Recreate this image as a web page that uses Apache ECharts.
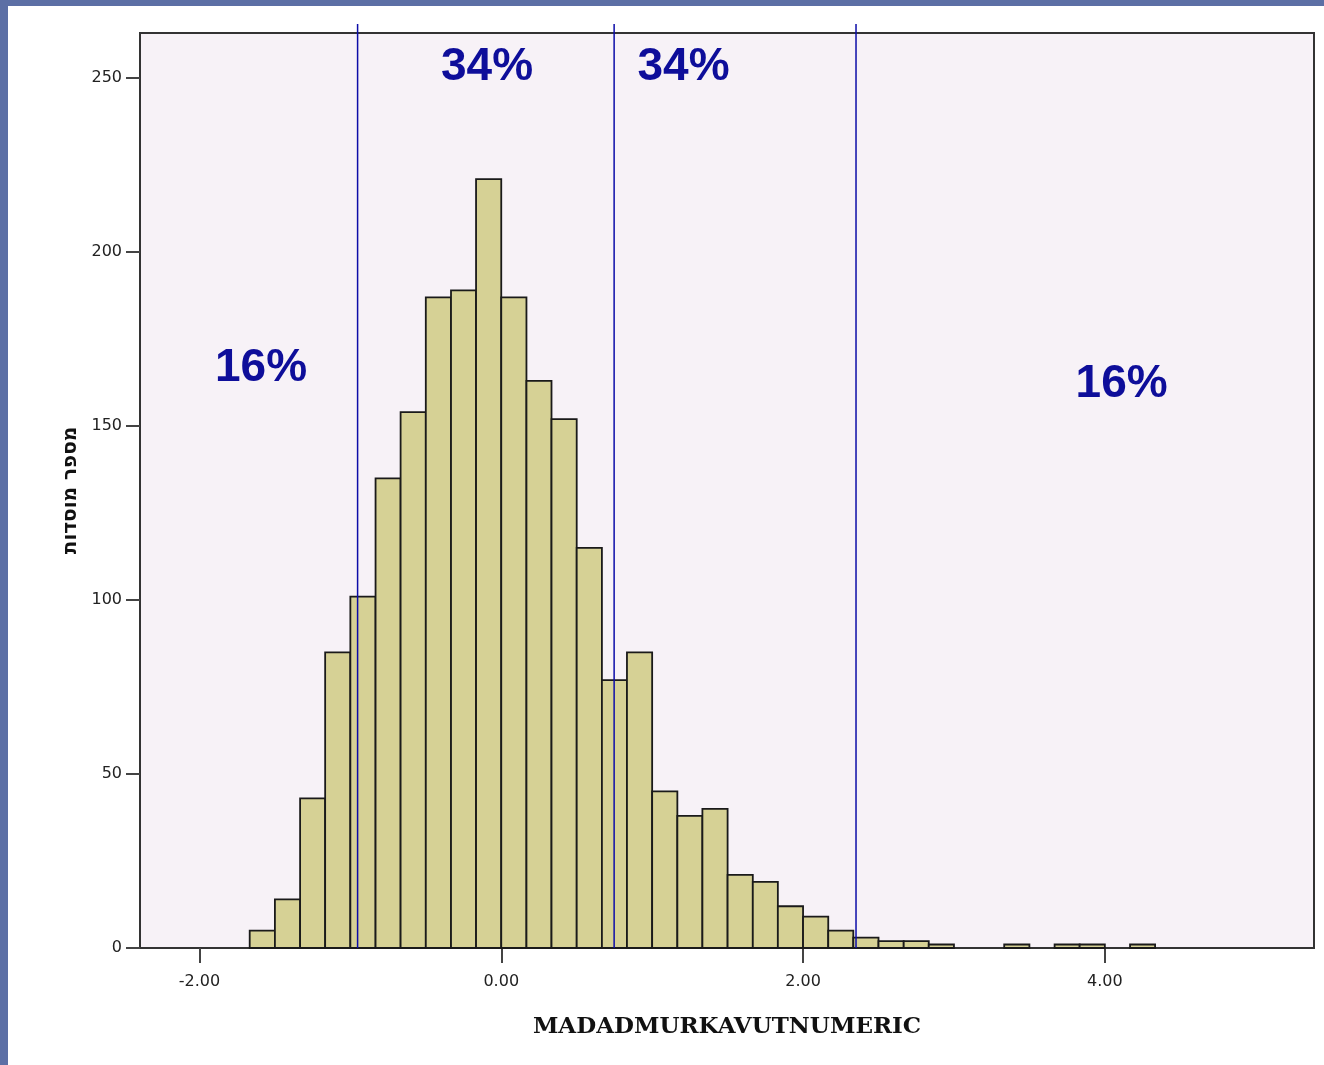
<!DOCTYPE html>
<html>
<head>
<meta charset="utf-8">
<script src="https://cdn.jsdelivr.net/npm/echarts@6/dist/echarts.min.js"></script>
<style>
html,body{margin:0;padding:0;background:#ffffff;overflow:hidden;}
#chart{position:absolute;left:0;top:0;width:1324px;height:1065px;}
.strip{position:absolute;background:#5c6fa5;z-index:5;}
</style>
</head>
<body>
<div id="chart"></div>
<div class="strip" style="left:0;top:0;width:8px;height:1065px;"></div>
<div class="strip" style="left:0;top:0;width:1324px;height:6px;"></div>
<script>
// Histogram bin edges (MADADMURKAVUTNUMERIC)
const binEdges = [-1.667, -1.5, -1.333, -1.167, -1.0, -0.833, -0.667, -0.5, -0.333, -0.167,
  0.0, 0.167, 0.333, 0.5, 0.667, 0.833, 1.0, 1.167, 1.333, 1.5, 1.667, 1.833,
  2.0, 2.167, 2.333, 2.5, 2.667, 2.833, 3.0, 3.167, 3.333, 3.5, 3.667, 3.833, 4.0, 4.167, 4.333];
// Frequency per bin
const counts = [5, 14, 43, 85, 101, 135, 154, 187, 189, 221,
  187, 163, 152, 115, 77, 85, 45, 38, 40, 21, 19, 12,
  9, 5, 3, 2, 2, 1, 0, 0, 1, 0, 1, 1, 0, 1];
// Vertical reference lines
const refLines = [-0.952, 0.748, 2.351];
const refLineTop = 265.6;
// Percentage annotations
const noteText = ['34%', '34%', '16%', '16%'];
const noteX = [-0.094, 1.208, -1.592, 4.111];
const noteY = [253.2, 253.2, 166.6, 162.0];
// Tick values
const xTicks = [-2, 0, 2, 4];
const yTicks = [0, 50, 100, 150, 200, 250];

const barData = counts.map((c, i) => [binEdges[i], binEdges[i + 1], c]);
const lineData = refLines.map(v => [v, 0]);
const noteData = noteText.map((t, i) => [noteX[i], noteY[i], t]);

const chart = echarts.init(document.getElementById('chart'));
chart.setOption({
  animation: false,
  backgroundColor: 'transparent',
  grid: {
    left: 140, right: 10, top: 33, bottom: 117,
    show: true, backgroundColor: '#f7f2f7', borderColor: '#333333', borderWidth: 2
  },
  xAxis: {
    type: 'value', min: -2.394, max: 5.386,
    name: 'MADADMURKAVUTNUMERIC', nameLocation: 'middle', nameGap: 68,
    nameTextStyle: { fontFamily: 'DejaVu Serif', fontWeight: 'bold', fontSize: 23, color: '#111' },
    axisLine: { show: true, onZero: false, lineStyle: { color: '#333333', width: 2 } },
    splitLine: { show: false },
    axisTick: { show: true, inside: false, length: 15, customValues: xTicks, lineStyle: { color: '#444444', width: 2 } },
    axisLabel: { customValues: xTicks, margin: 26, fontFamily: 'DejaVu Sans', fontSize: 16, color: '#222',
      formatter: v => v.toFixed(2) }
  },
  yAxis: {
    type: 'value', min: 0, max: 263,
    name: 'מספר מוסדות', nameLocation: 'middle', nameGap: 58,
    nameTextStyle: { fontFamily: 'DejaVu Sans', fontWeight: 'bold', fontSize: 20, color: '#111' },
    axisLine: { show: true, onZero: false, lineStyle: { color: '#333333', width: 2 } },
    splitLine: { show: false },
    axisTick: { show: true, inside: false, length: 14, customValues: yTicks, lineStyle: { color: '#444444', width: 2 } },
    axisLabel: { customValues: yTicks, margin: 18, fontFamily: 'DejaVu Sans', fontSize: 16, color: '#222' }
  },
  series: [
    {
      type: 'custom',
      data: barData,
      encode: { x: [0, 1], y: 2 },
      renderItem: function (params, api) {
        const x0 = api.value(0), x1 = api.value(1), c = api.value(2);
        if (!c) return null;
        const p0 = api.coord([x0, c]);
        const p1 = api.coord([x1, 0]);
        return {
          type: 'rect',
          shape: { x: p0[0], y: p0[1], width: p1[0] - p0[0], height: p1[1] - p0[1] },
          style: { fill: '#d6d195', stroke: '#1a1a1a', lineWidth: 1.8 }
        };
      },
      z: 2
    },
    {
      type: 'custom',
      data: lineData,
      clip: false,
      renderItem: function (params, api) {
        const v = api.value(0);
        const a = api.coord([v, 0]);
        const b = api.coord([v, refLineTop]);
        return {
          type: 'line',
          shape: { x1: a[0], y1: a[1], x2: b[0], y2: b[1] },
          style: { stroke: '#0c0ca8', lineWidth: 1.5 }
        };
      },
      z: 3
    },
    {
      type: 'custom',
      data: noteData,
      clip: false,
      renderItem: function (params, api) {
        const p = api.coord([api.value(0), api.value(1)]);
        return {
          type: 'text',
          x: p[0], y: p[1],
          style: {
            text: noteText[params.dataIndex],
            fontFamily: 'Liberation Sans, Arial, sans-serif', fontWeight: 'bold', fontSize: 46,
            fill: '#0e0e9a', align: 'center', verticalAlign: 'middle'
          }
        };
      },
      z: 4
    }
  ]
});
</script>
</body>
</html>
